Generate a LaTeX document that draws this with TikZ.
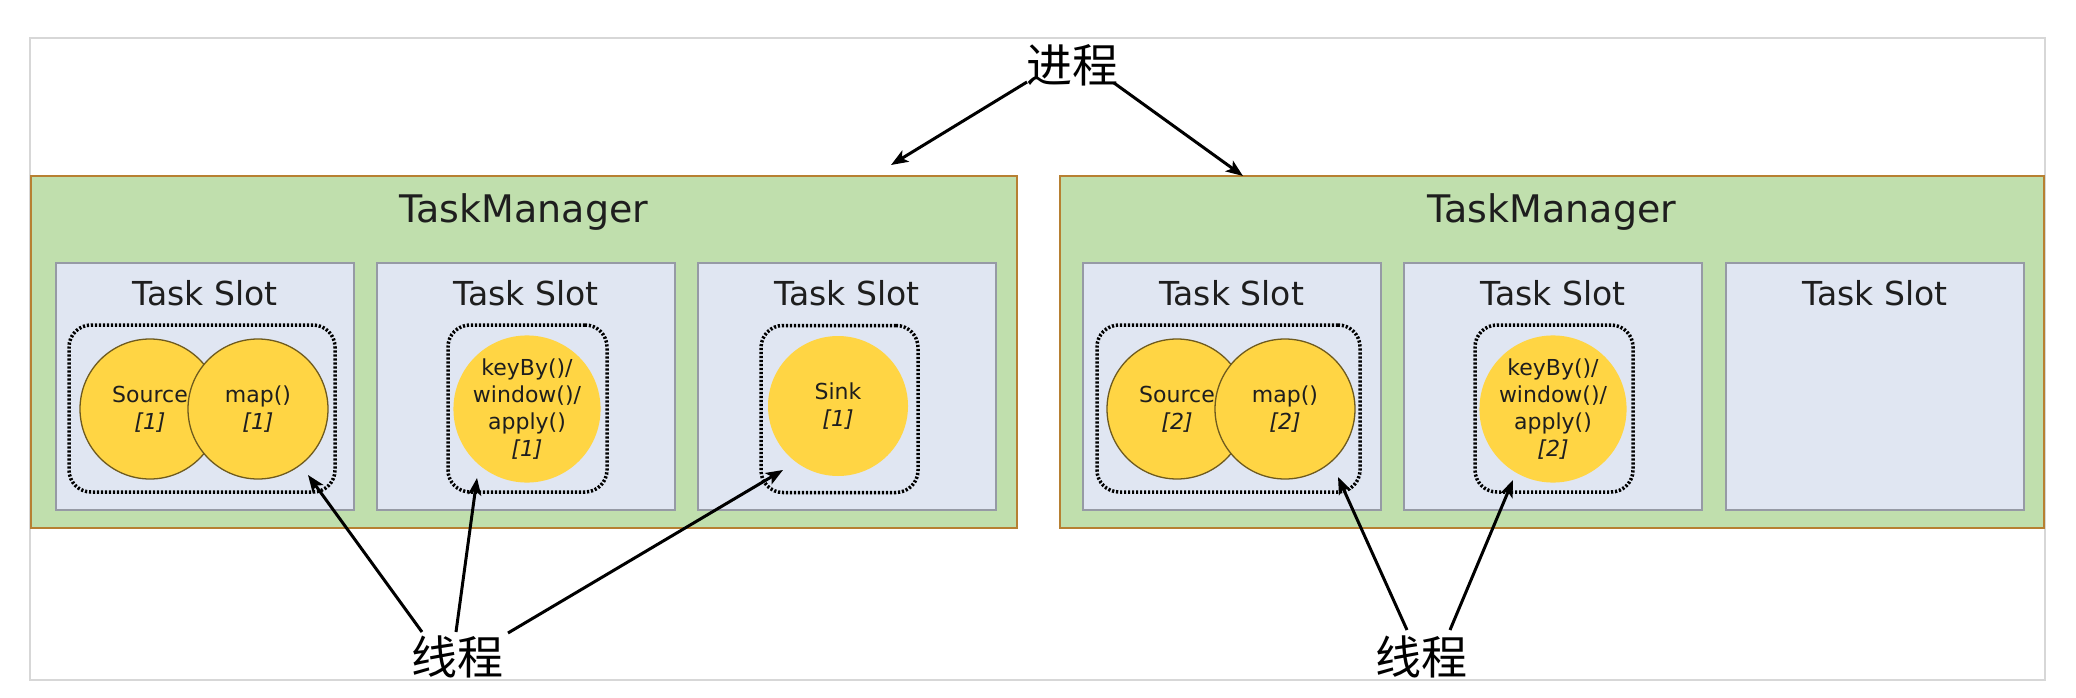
\documentclass[tikz,border=0pt]{standalone}
\usepackage{fontspec}
\setmainfont{DejaVu Sans}
\newfontfamily\cjk{Noto Sans CJK SC}
\usetikzlibrary{arrows.meta,calc}
\definecolor{tmfill}{RGB}{192,223,173}
\definecolor{tmdraw}{RGB}{183,128,50}
\definecolor{slotfill}{RGB}{224,230,242}
\definecolor{slotdraw}{RGB}{150,154,165}
\definecolor{opfill}{RGB}{255,213,68}
\definecolor{opdraw}{RGB}{110,90,30}
\definecolor{framegray}{RGB}{215,215,215}
\definecolor{txt}{RGB}{30,30,30}
\begin{document}
\begin{tikzpicture}[x=1pt,y=-1pt,
  tmbox/.style={draw=tmdraw,fill=tmfill,line width=2pt,minimum width=986pt,minimum height=352pt,inner sep=0pt},
  slotbox/.style={draw=slotdraw,fill=slotfill,line width=2pt,minimum width=298pt,minimum height=247pt,inner sep=0pt},
  thread/.style={draw=black,line width=3.5pt,dash pattern=on 2.2pt off 1.8pt,rounded corners=22pt,minimum height=167pt,inner sep=0pt},
  op/.style={circle,fill=opfill,minimum size=140pt,inner sep=0pt,align=center,text=txt,font=\fontsize{22}{27}\selectfont},
  opb/.style={op,draw=opdraw,line width=1.3pt},
  tmlabel/.style={inner sep=0pt,text=txt,font=\fontsize{38}{40}\selectfont},
  slotlabel/.style={inner sep=0pt,text=txt,font=\fontsize{33}{35}\selectfont},
  zh/.style={inner sep=0pt,text=black,font=\cjk\fontsize{46}{48}\selectfont},
  arr/.style={line width=3pt,-{Stealth[length=17pt,width=13pt,inset=4pt]}}
]
\useasboundingbox (0,0) rectangle (2076,698);
\fill[white] (0,0) rectangle (2076,698);
\draw[framegray,line width=2pt] (30,38) rectangle (2045,680);

% TaskManager 1
\node[tmbox] (tm1) at (524,352) {};
\node[tmlabel] (tm1l) at (524,212) {TaskManager};
\node[slotbox] (s11) at (205,386.5) {};
\node[slotbox] (s12) at (526,386.5) {};
\node[slotbox] (s13) at (847,386.5) {};
\node[slotlabel] (s11l) at (205,293) {Task Slot};
\node[slotlabel] (s12l) at (526,293) {Task Slot};
\node[slotlabel] (s13l) at (847,293) {Task Slot};
\node[thread,minimum width=266pt] (t11) at (202,408.5) {};
\node[thread,minimum width=159pt] (t12) at (527.5,408.5) {};
\node[thread,minimum width=157pt] (t13) at (839.5,409) {};
\node[opb] (src1) at (150,409) {Source\\\textit{[1]}};
\node[opb] (map1) at (258,409) {map()\\\textit{[1]}};
\node[op] (key1) at (527,409) {keyBy()/\\window()/\\apply()\\\textit{[1]}};
\node[op] (sink1) at (838,406) {Sink\\\textit{[1]}};

% TaskManager 2
\node[tmbox,minimum width=984pt] (tm2) at (1552,352) {};
\node[tmlabel] (tm2l) at (1552,212) {TaskManager};
\node[slotbox] (s21) at (1231.5,386.5) {};
\node[slotbox] (s22) at (1553,386.5) {};
\node[slotbox] (s23) at (1875,386.5) {};
\node[slotlabel] (s21l) at (1231.5,293) {Task Slot};
\node[slotlabel] (s22l) at (1553,293) {Task Slot};
\node[slotlabel] (s23l) at (1875,293) {Task Slot};
\node[thread,minimum width=263pt] (t21) at (1228.5,408.5) {};
\node[thread,minimum width=158pt] (t22) at (1554,408.5) {};
\node[opb] (src2) at (1177,409) {Source\\\textit{[2]}};
\node[opb] (map2) at (1285,409) {map()\\\textit{[2]}};
\node[op] (key2) at (1553,409) {keyBy()/\\window()/\\apply()\\\textit{[2]}};

% labels
\node[zh] (proc) at (1072,65) {进程};
\node[zh] (thl) at (457,657) {线程};
\node[zh] (thr) at (1421,657) {线程};

% connector end points
\coordinate (p1) at (1027,82);
\coordinate (p2) at (1114,83);
\coordinate (pt1) at (891,165);
\coordinate (pt2) at (1243,176);
\coordinate (l1) at (422,632);
\coordinate (l2) at (456,632);
\coordinate (l3) at (508,633);
\coordinate (lt1) at (308,475);
\coordinate (lt2) at (477,478);
\coordinate (lt3) at (783,470);
\coordinate (r1) at (1407,630);
\coordinate (r2) at (1450,630);
\coordinate (rt1) at (1338,477);
\coordinate (rt2) at (1513,480);

\draw[arr] (p1) -- (pt1);
\draw[arr] (p2) -- (pt2);
\draw[arr] (l1) -- (lt1);
\draw[arr] (l2) -- (lt2);
\draw[arr] (l3) -- (lt3);
\draw[arr] (r1) -- (rt1);
\draw[arr] (r2) -- (rt2);
\end{tikzpicture}
\end{document}
